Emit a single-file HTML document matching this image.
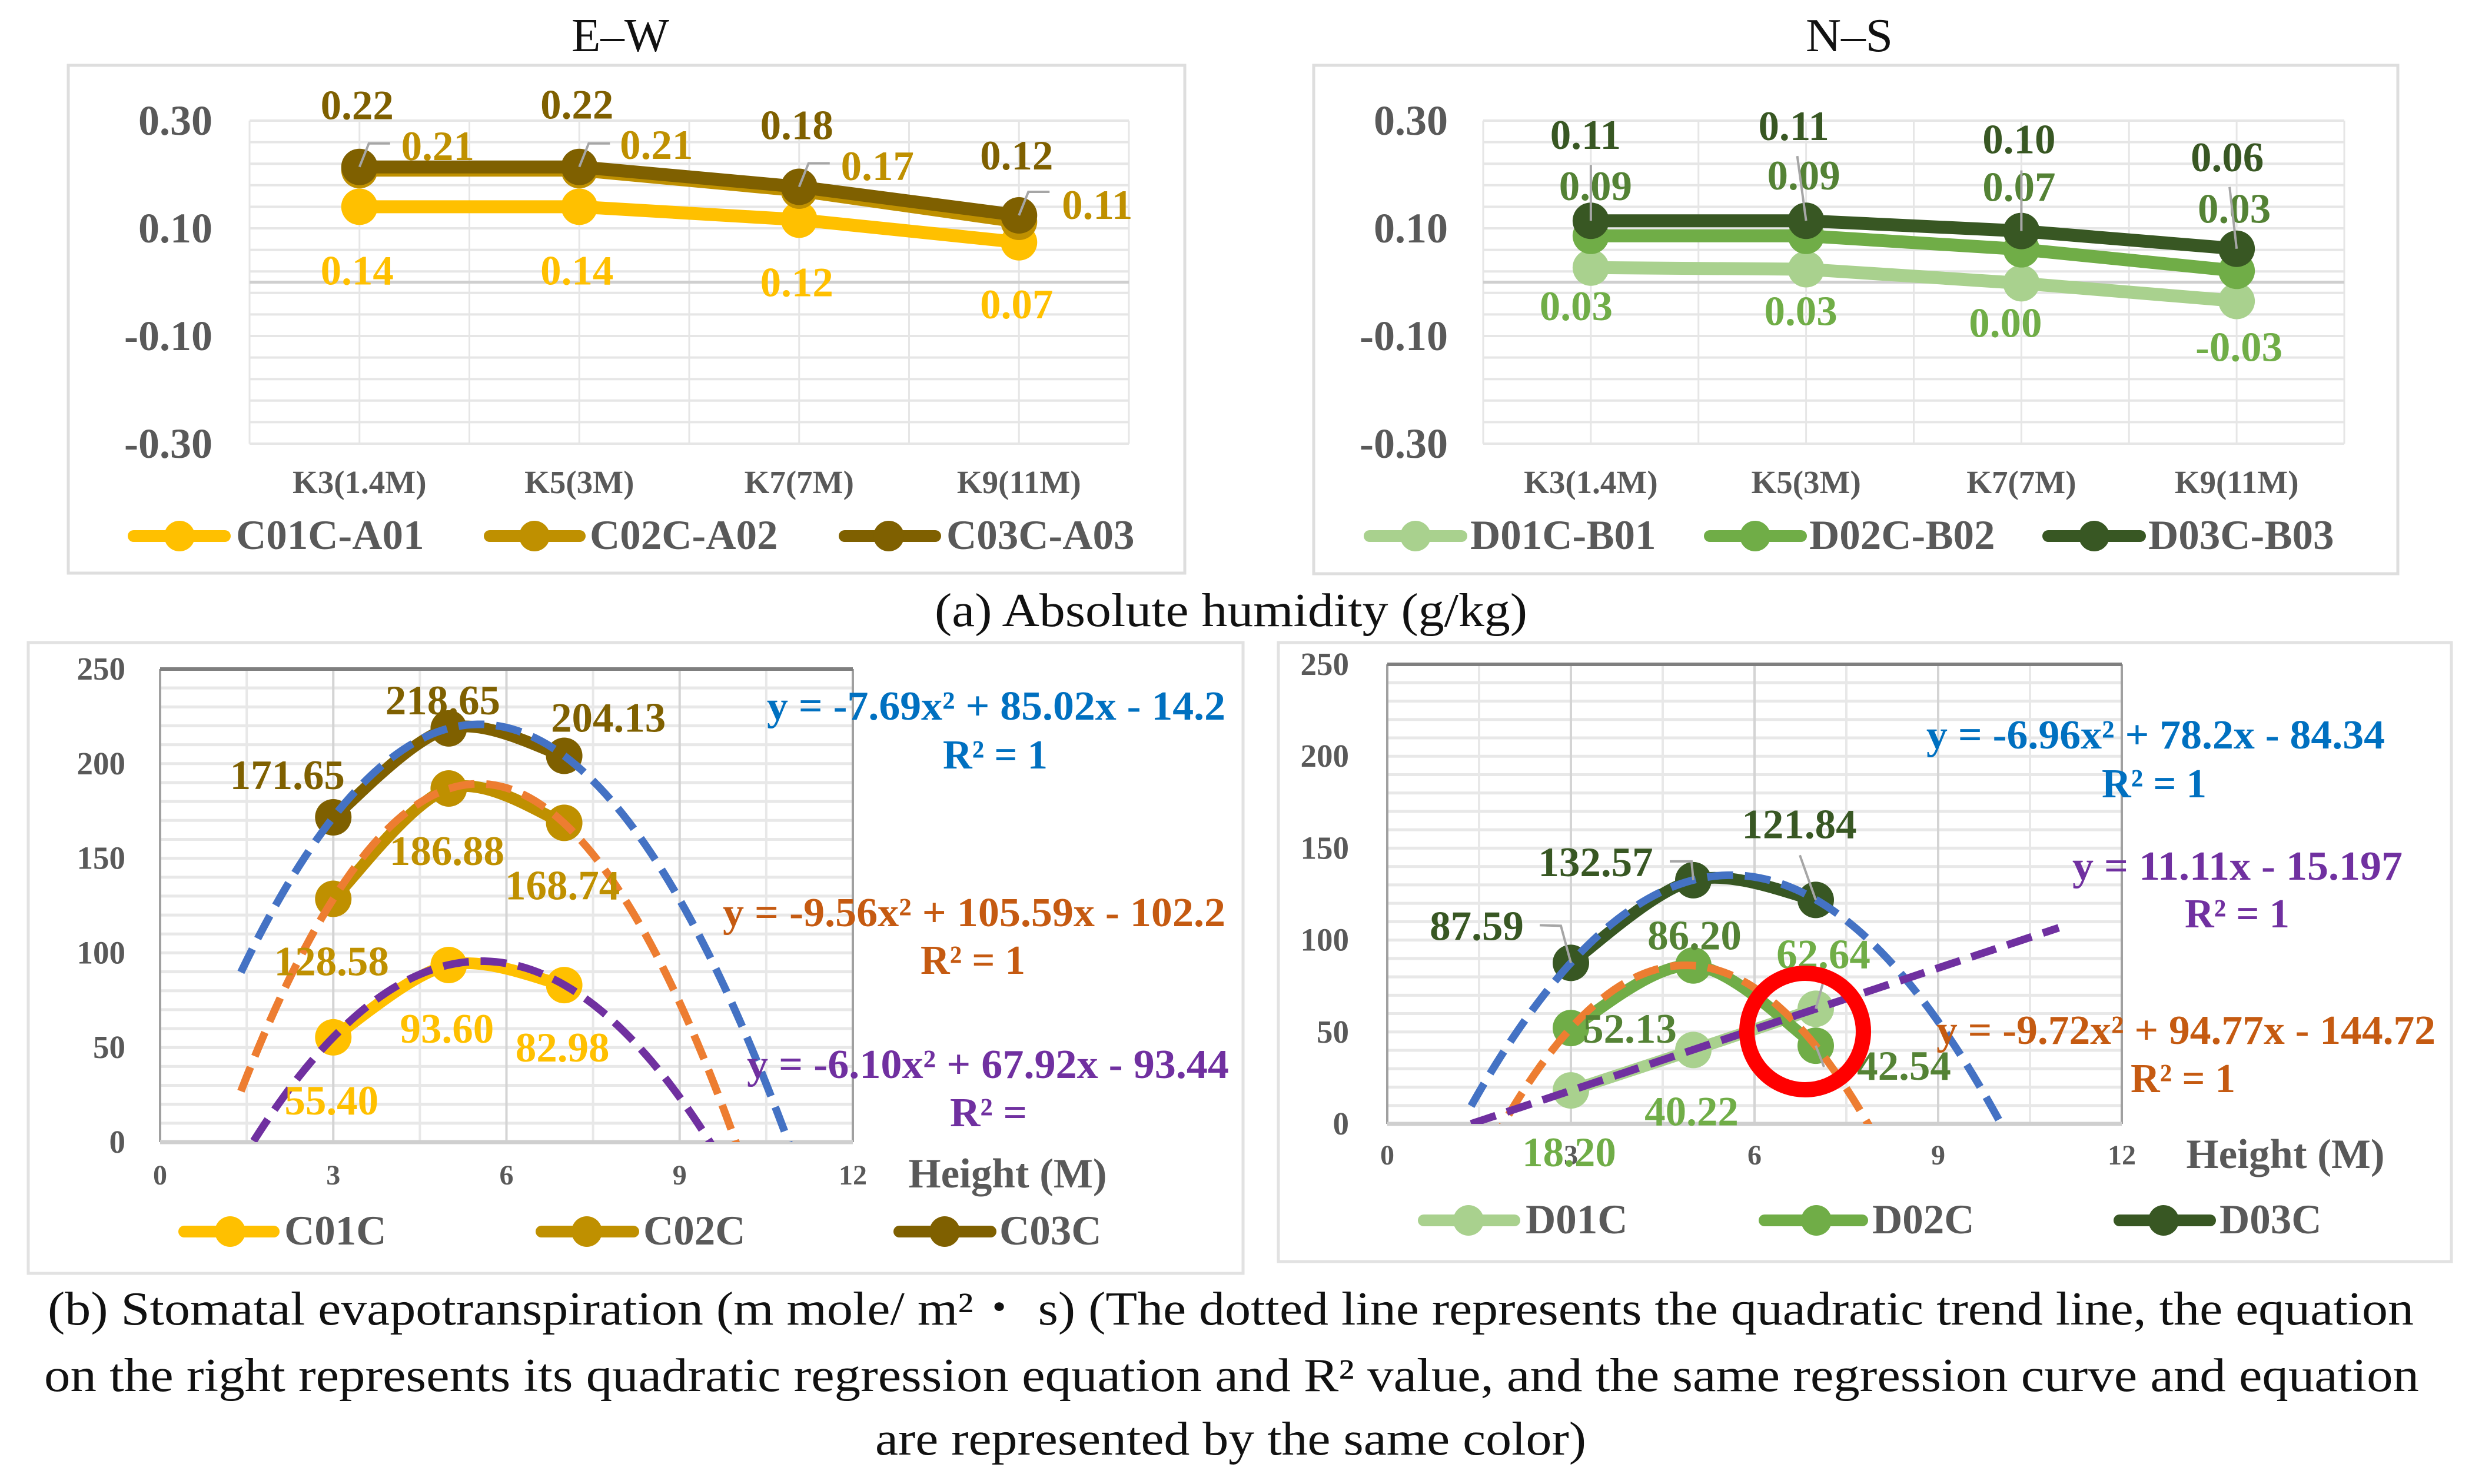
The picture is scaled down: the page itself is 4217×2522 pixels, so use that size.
<!DOCTYPE html>
<html lang="en">
<head>
<meta charset="utf-8">
<title>Absolute humidity and stomatal evapotranspiration</title>
<style>
html,body{margin:0;padding:0;background:#fff}
svg{display:block}
text{font-family:"Liberation Serif","Noto Serif CJK SC",serif}
.cap{font-size:80px;fill:#111}
.eq{font-size:70px;font-weight:bold}
</style>
</head>
<body>
<svg id="fig" xmlns="http://www.w3.org/2000/svg" width="4217" height="2522" viewBox="0 0 4217 2522">
<rect width="4217" height="2522" fill="#fff"/>
<text class="cap" x="1054" y="87" text-anchor="middle" textLength="166" lengthAdjust="spacingAndGlyphs">E–W</text>
<text class="cap" x="3142" y="87" text-anchor="middle" textLength="148" lengthAdjust="spacingAndGlyphs">N–S</text>
<rect x="116" y="111" width="1897" height="863" fill="#fff" stroke="#dedede" stroke-width="5"/>
<rect x="2232" y="111" width="1842" height="864" fill="#fff" stroke="#dedede" stroke-width="5"/>
<rect x="48" y="1092" width="2064" height="1072" fill="#fff" stroke="#e2e2e2" stroke-width="5"/>
<rect x="2172" y="1092" width="1993" height="1052" fill="#fff" stroke="#e2e2e2" stroke-width="5"/>
<text class="cap" x="1588" y="1064" textLength="1007" lengthAdjust="spacingAndGlyphs">(a) Absolute humidity (g/kg)</text>
<text class="cap" x="81" y="2251" textLength="4020" lengthAdjust="spacingAndGlyphs">(b) Stomatal evapotranspiration (m mole/ m²・ s) (The dotted line represents the quadratic trend line, the equation</text>
<text class="cap" x="75" y="2364" textLength="4035" lengthAdjust="spacingAndGlyphs">on the right represents its quadratic regression equation and R² value, and the same regression curve and equation</text>
<text class="cap" x="1487" y="2472" textLength="1208" lengthAdjust="spacingAndGlyphs">are represented by the same color)</text>
<g id="charts"></g>
<text class="eq" fill="#0070c0" x="1303" y="1223" textLength="779" lengthAdjust="spacingAndGlyphs">y = -7.69x² + 85.02x - 14.2</text>
<text class="eq" fill="#0070c0" x="1602" y="1306" textLength="178" lengthAdjust="spacingAndGlyphs">R² = 1</text>
<text class="eq" fill="#c55a11" x="1228" y="1574" textLength="854" lengthAdjust="spacingAndGlyphs">y = -9.56x² + 105.59x - 102.2</text>
<text class="eq" fill="#c55a11" x="1564" y="1655" textLength="178" lengthAdjust="spacingAndGlyphs">R² = 1</text>
<text class="eq" fill="#7030a0" x="1269" y="1832" textLength="819" lengthAdjust="spacingAndGlyphs">y = -6.10x² + 67.92x - 93.44</text>
<text class="eq" fill="#7030a0" x="1614" y="1914" textLength="131" lengthAdjust="spacingAndGlyphs">R² =</text>
<text class="eq" fill="#0070c0" x="3273" y="1272" textLength="779" lengthAdjust="spacingAndGlyphs">y = -6.96x² + 78.2x - 84.34</text>
<text class="eq" fill="#0070c0" x="3571" y="1355" textLength="178" lengthAdjust="spacingAndGlyphs">R² = 1</text>
<text class="eq" fill="#7030a0" x="3521" y="1495" textLength="561" lengthAdjust="spacingAndGlyphs">y = 11.11x - 15.197</text>
<text class="eq" fill="#7030a0" x="3712" y="1576" textLength="178" lengthAdjust="spacingAndGlyphs">R² = 1</text>
<text class="eq" fill="#c55a11" x="3290" y="1774" textLength="848" lengthAdjust="spacingAndGlyphs">y = -9.72x² + 94.77x - 144.72</text>
<text class="eq" fill="#c55a11" x="3620" y="1856" textLength="178" lengthAdjust="spacingAndGlyphs">R² = 1</text>
<circle cx="3067" cy="1753" r="99" fill="none" stroke="#ff0000" stroke-width="26"/>
</svg>
<script>
// ---- Humidity charts: categories, ticks, values, printed labels ----
const heightCategories = ["K3(1.4M)", "K5(3M)", "K7(7M)", "K9(11M)"];
const humidityTickValues = [0.30, 0.10, -0.10, -0.30];
const humidityTickLabels = ["0.30", "0.10", "-0.10", "-0.30"];

const c01aValues = [0.14, 0.14, 0.116, 0.074];
const c02aValues = [0.208, 0.208, 0.170, 0.112];
const c03aValues = [0.214, 0.214, 0.177, 0.124];
const c01aLabels = ["0.14", "0.14", "0.12", "0.07"];
const c02aLabels = ["0.21", "0.21", "0.17", "0.11"];
const c03aLabels = ["0.22", "0.22", "0.18", "0.12"];

const d01bValues = [0.027, 0.024, -0.002, -0.035];
const d02bValues = [0.086, 0.086, 0.061, 0.021];
const d03bValues = [0.114, 0.114, 0.095, 0.062];
const d01bLabels = ["0.03", "0.03", "0.00", "-0.03"];
const d02bLabels = ["0.09", "0.09", "0.07", "0.03"];
const d03bLabels = ["0.11", "0.11", "0.10", "0.06"];

// ---- Evapotranspiration charts ----
const evapHeights = [3, 5, 7];
const evapXTicks = [0, 3, 6, 9, 12];
const evapYTicks = [250, 200, 150, 100, 50, 0];

const c01Values = [55.40, 93.60, 82.98];
const c02Values = [128.58, 186.88, 168.74];
const c03Values = [171.65, 218.65, 204.13];
const d01Values = [18.20, 40.22, 62.64];
const d02Values = [52.13, 86.20, 42.54];
const d03Values = [87.59, 132.57, 121.84];

// Quadratic trend coefficients printed on the chart (a, b, c)
const trendBlueEW = [-7.69, 85.02, -14.2];
const trendOrangeEW = [-9.56, 105.59, -102.2];
const trendPurpleEW = [-6.10, 67.92, -93.44];
const trendBlueNS = [-6.96, 78.2, -84.34];
const trendOrangeNS = [-9.72, 94.77, -144.72];
const trendPurpleNS = [0, 11.11, -15.197];

// ---- helpers ----
const SVG_NS = "http://www.w3.org/2000/svg";
const root = document.getElementById("charts");
function mk(tag, attrs, parent, text) {
  const el = document.createElementNS(SVG_NS, tag);
  for (const k in attrs) el.setAttribute(k, attrs[k]);
  if (text !== undefined) el.textContent = text;
  (parent || root).appendChild(el);
  return el;
}
function scale(d0, d1, p0, p1) { return v => p0 + (v - d0) * (p1 - p0) / (d1 - d0); }
function smoothPath(pts) {
  let d = "M" + pts[0][0] + " " + pts[0][1];
  for (let i = 0; i < pts.length - 1; i++) {
    const p0 = pts[Math.max(i - 1, 0)], p1 = pts[i], p2 = pts[i + 1], p3 = pts[Math.min(i + 2, pts.length - 1)];
    const c1x = p1[0] + (p2[0] - p0[0]) / 6, c1y = p1[1] + (p2[1] - p0[1]) / 6;
    const c2x = p2[0] - (p3[0] - p1[0]) / 6, c2y = p2[1] - (p3[1] - p1[1]) / 6;
    d += " C" + c1x + " " + c1y + " " + c2x + " " + c2y + " " + p2[0] + " " + p2[1];
  }
  return d;
}
function lineLabel(parent, name, x, y, str, color, size, anchor) {
  const t = mk("text", {x: x, y: y, "text-anchor": anchor || "middle", "font-size": size, "font-weight": "bold", fill: color}, parent, str);
  
  
  return t;
}
function legendEntry(parent, name, label, color, x0, x1, xm, yc, xt, yb, sw) {
  const g = mk("g", {}, parent);
  
  
  const l = mk("line", {x1: x0 + 8, x2: x1 - 8, y1: yc, y2: yc, stroke: color, "stroke-width": sw, "stroke-linecap": "round"}, g);
  
  
  const c = mk("circle", {cx: xm, cy: yc, r: 26, fill: color}, g);
  
  
  lineLabel(g, "legend-label-" + name, xt, yb, label, "#595959", 71, "start");
}
function drawLeader(parent, name, pts) {
  const p = mk("polyline", {points: pts.map(q => q.join(",")).join(" "), fill: "none", stroke: "#a6a6a6", "stroke-width": 4}, parent);
  
  
}

// ---- humidity chart ----
function humidityChart(cfg) {
  const g = mk("g", {});
  
  
  const y = scale(-0.30, 0.30, 754, 205);
  const w = (cfg.right - cfg.left) / heightCategories.length;
  const xCat = i => cfg.left + (i + 0.5) * w;
  for (let v = -0.30; v < 0.3001; v += 0.04) {
    const gl = mk("line", {x1: cfg.left, x2: cfg.right, y1: y(v), y2: y(v), stroke: "#e6e6e6", "stroke-width": 4}, g);
    
    
  }
  for (let i = 0; i <= heightCategories.length * 2; i++) {
    const vx = cfg.left + i * w / 2;
    const gl = mk("line", {x1: vx, x2: vx, y1: y(0.30), y2: y(-0.30), stroke: "#e6e6e6", "stroke-width": 3}, g);
    
    
  }
  const zero = mk("line", {x1: cfg.left, x2: cfg.right, y1: y(0), y2: y(0), stroke: "#cfcfcf", "stroke-width": 5}, g);
  
  
  humidityTickValues.forEach((v, i) => {
    lineLabel(g, "y-tick-label", cfg.tickX, y(v) + 24, humidityTickLabels[i], "#595959", 72, "end");
  });
  heightCategories.forEach((c, i) => {
    lineLabel(g, "x-tick-label", xCat(i), 838, c, "#595959", 55);
  });
  cfg.series.forEach(s => {
    const pts = s.values.map((v, i) => [xCat(i), y(v)]);
    const p = mk("polyline", {points: pts.map(q => q.join(",")).join(" "), fill: "none", stroke: s.color, "stroke-width": 22, "stroke-linejoin": "round"}, g);
    
    
    pts.forEach(q => {
      const c = mk("circle", {cx: q[0], cy: q[1], r: 31, fill: s.color}, g);
      
      
    });
  });
  cfg.series.forEach(s => {
    s.values.forEach((v, i) => {
      const px = xCat(i), py = y(v);
      if (s.leader) drawLeader(g, "leader-" + s.name, s.leader[i].map(o => [px + o[0], py + o[1]]));
      lineLabel(g, "value-label-" + s.name, px + s.off[i][0] - 4, py + s.off[i][1], s.labels[i], s.labelColor, 71);
    });
    legendEntry(g, s.name, s.legend, s.color, s.lg[0], s.lg[1], s.lg[2], 911, s.lg[3], 933, 20);
  });
}

// ---- evapotranspiration chart ----
function evapChart(cfg) {
  const g = mk("g", {});
  
  
  const x = scale(0, 12, cfg.left, cfg.right);
  const y = scale(0, 250, cfg.bottom, cfg.top);
  for (let v = 10; v < 250; v += 10) {
    const gl = mk("line", {x1: cfg.left, x2: cfg.right, y1: y(v), y2: y(v), stroke: "#e8e8e8", "stroke-width": 5}, g);
    
    
  }
  for (let v = 1.5; v < 12; v += 1.5) {
    const major = v % 3 === 0;
    const gl = mk("line", {x1: x(v), x2: x(v), y1: cfg.top, y2: cfg.bottom, stroke: major ? "#d4d4d4" : "#e8e8e8", "stroke-width": 4}, g);
    
    
  }
  const frame = [
    ["axis-left", cfg.left, cfg.top, cfg.left, cfg.bottom, "#a0a0a0", 4],
    ["axis-right", cfg.right, cfg.top, cfg.right, cfg.bottom, "#a0a0a0", 4],
    ["axis-top", cfg.left, cfg.top, cfg.right, cfg.top, "#7f7f7f", 6],
    ["axis-bottom", cfg.left, cfg.bottom, cfg.right, cfg.bottom, "#cfcfcf", 7]
  ];
  frame.forEach(f => {
    const l = mk("line", {x1: f[1], y1: f[2], x2: f[3], y2: f[4], stroke: f[5], "stroke-width": f[6]}, g);
    
    
  });
  evapYTicks.forEach(v => {
    lineLabel(g, "y-tick-label", cfg.tickX, y(v) + 18, String(v), "#595959", 55, "end");
  });
  evapXTicks.forEach(v => {
    lineLabel(g, "x-tick-label", x(v), cfg.xLabelY, String(v), "#595959", 48);
  });
  lineLabel(g, "x-axis-title", cfg.titleX, cfg.titleY, "Height (M)", "#595959", 71);

  cfg.series.forEach(s => {
    const pts = evapHeights.map((h, i) => [x(h), y(s.values[i])]);
    const p = mk("path", {d: smoothPath(pts), fill: "none", stroke: s.color, "stroke-width": 20, "stroke-linecap": "round"}, g);
    
    
    pts.forEach(q => {
      const c = mk("circle", {cx: q[0], cy: q[1], r: 31, fill: s.color}, g);
      
      
    });
  });

  const clipId = cfg.name + "-clip";
  const defs = mk("defs", {}, g);
  const cp = mk("clipPath", {id: clipId}, defs);
  mk("rect", {x: cfg.left - 20, y: cfg.top - 40, width: cfg.right - cfg.left + 40, height: cfg.bottom - cfg.top + 40}, cp);
  const tg = mk("g", {"clip-path": "url(#" + clipId + ")"}, g);
  
  
  cfg.trends.forEach(t => {
    const pts = [];
    for (let h = t.from; h <= t.to + 0.001; h += 0.1) {
      pts.push([x(h), y(t.coef[0] * h * h + t.coef[1] * h + t.coef[2])]);
    }
    const p = mk("polyline", {points: pts.map(q => q.join(",")).join(" "), fill: "none", stroke: t.color, "stroke-width": 13, "stroke-dasharray": "44 20"}, tg);
    
    
  });

  cfg.series.forEach(s => {
    s.values.forEach((v, i) => {
      const px = x(evapHeights[i]), py = y(v);
      if (s.leader && s.leader[i]) drawLeader(g, "leader-" + s.name, s.leader[i].map(o => [px + o[0], py + o[1]]));
      lineLabel(g, "value-label-" + s.name, px + s.off[i][0] - 3, py + s.off[i][1], v.toFixed(2), s.labelColor, 71);
    });
    legendEntry(g, s.name, s.legend, s.color, s.lg[0], s.lg[1], s.lg[2], cfg.legendY, s.lg[3], cfg.legendY + 22, 20);
  });
}

humidityChart({
  name: "chart-humidity-ew", left: 424, right: 1918, tickX: 361,
  series: [
    {name: "c01c-a01", legend: "C01C-A01", values: c01aValues, labels: c01aLabels, color: "#ffc000", labelColor: "#ffc000",
     off: [[0, 132], [0, 132], [0, 130], [0, 129]], lg: [219, 390, 305, 401]},
    {name: "c02c-a02", legend: "C02C-A02", values: c02aValues, labels: c02aLabels, color: "#bf9000", labelColor: "#bf9000",
     off: [[137, -17], [135, -19], [137, -18], [137, -5]], lg: [824, 993, 908, 1002]},
    {name: "c03c-a03", legend: "C03C-A03", values: c03aValues, labels: c03aLabels, color: "#7f6000", labelColor: "#7f6000",
     off: [[0, -81], [0, -82], [0, -81], [0, -78]], lg: [1427, 1597, 1510, 1608],
     leader: [[[0, 0], [16, -40], [52, -40]], [[0, 0], [16, -40], [52, -40]], [[0, 0], [16, -40], [52, -40]], [[0, 0], [16, -40], [52, -40]]]}
  ]
});

humidityChart({
  name: "chart-humidity-ns", left: 2520, right: 3983, tickX: 2460,
  series: [
    {name: "d01c-b01", legend: "D01C-B01", values: d01bValues, labels: d01bLabels, color: "#a9d18e", labelColor: "#70ad47",
     off: [[-21, 89], [-5, 95], [-23, 91], [8, 102]], lg: [2319, 2491, 2405, 2498]},
    {name: "d02c-b02", legend: "D02C-B02", values: d02bValues, labels: d02bLabels, color: "#70ad47", labelColor: "#548235",
     off: [[12, -61], [0, -79], [0, -82], [0, -82]], lg: [2897, 3068, 2982, 3074]},
    {name: "d03c-b03", legend: "D03C-B03", values: d03bValues, labels: d03bLabels, color: "#385723", labelColor: "#385723",
     off: [[-5, -122], [-17, -137], [0, -132], [-12, -132]], lg: [3472, 3644, 3558, 3650],
     leader: [[[0, 0], [0, -95]], [[0, 0], [-15, -110]], [[0, 0], [0, -103]], [[0, 0], [-12, -105]]]}
  ]
});

evapChart({
  name: "chart-evap-ew", left: 272, right: 1449, top: 1137, bottom: 1941, tickX: 213, xLabelY: 2013,
  titleX: 1712, titleY: 2018, legendY: 2093,
  series: [
    {name: "c01c", legend: "C01C", values: c01Values, color: "#ffc000", labelColor: "#ffc000",
     off: [[0, 131], [0, 132], [0, 130]], lg: [305, 473, 391, 483]},
    {name: "c02c", legend: "C02C", values: c02Values, color: "#bf9000", labelColor: "#bf9000",
     off: [[0, 130], [0, 130], [0, 130]], lg: [912, 1084, 997, 1093]},
    {name: "c03c", legend: "C03C", values: c03Values, color: "#7f6000", labelColor: "#7f6000",
     off: [[-75, -48], [-7, -24], [78, -41]], lg: [1520, 1691, 1605, 1698]}
  ],
  trends: [
    {name: "blue", coef: trendBlueEW, color: "#4472c4", from: 1.4, to: 10.9},
    {name: "orange", coef: trendOrangeEW, color: "#ed7d31", from: 1.4, to: 10.9},
    {name: "purple", coef: trendPurpleEW, color: "#7030a0", from: 1.62, to: 10.9}
  ]
});

evapChart({
  name: "chart-evap-ns", left: 2357, right: 3605, top: 1129, bottom: 1910, tickX: 2292, xLabelY: 1979,
  titleX: 3883, titleY: 1985, legendY: 2074,
  series: [
    {name: "d01c", legend: "D01C", values: d01Values, color: "#a9d18e", labelColor: "#70ad47",
     off: [[0, 129], [0, 128], [16, -69]], lg: [2411, 2581, 2495, 2592],
     leader: [null, null, [[0, 0], [14, -50]]]},
    {name: "d02c", legend: "D02C", values: d02Values, color: "#70ad47", labelColor: "#548235",
     off: [[103, 25], [5, -27], [153, 58]], lg: [2990, 3172, 3086, 3181],
     leader: [null, null, [[0, 0], [14, 36]]]},
    {name: "d03c", legend: "D03C", values: d03Values, color: "#385723", labelColor: "#385723",
     off: [[-157, -39], [-163, -7], [-25, -105]], lg: [3593, 3763, 3676, 3771],
     leader: [[[0, 0], [-17, -63], [-53, -64]], [[0, 0], [-3, -32], [-40, -32]], [[0, 0], [-27, -76]]]}
  ],
  trends: [
    {name: "blue", coef: trendBlueNS, color: "#4472c4", from: 1.37, to: 10.1},
    {name: "orange", coef: trendOrangeNS, color: "#ed7d31", from: 1.4, to: 8},
    {name: "purple", coef: trendPurpleNS, color: "#7030a0", from: 1.37, to: 11}
  ]
});
</script>
</body>
</html>
